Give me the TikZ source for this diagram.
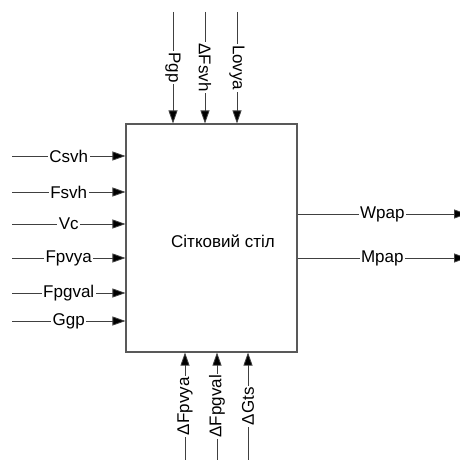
\documentclass[tikz,border=0pt]{standalone}
\usepackage{fontspec}
\setmainfont{Liberation Sans}
\usetikzlibrary{arrows.meta}
\begin{document}
\begin{tikzpicture}[x=1pt,y=-1pt,
  conn/.style={draw=black!75, line width=0.8pt, -{Triangle[length=13pt,width=9pt,fill=black]}},
  lbl/.style={fill=white, inner xsep=1.5pt, inner ysep=0pt, font=\fontsize{17}{19}\selectfont},
  boxst/.style={draw=black!65, line width=1.1pt, minimum width=171pt, minimum height=228pt, inner sep=0pt}]
\useasboundingbox (0,0) rectangle (460,460);
\clip (0,0) rectangle (460,460);
\node[boxst] (tbl) at (211.5,238) {};
\node[font=\fontsize{17}{19}\selectfont] (ttl) at (223,241) {Сітковий стіл};
% left inputs
\foreach \y/\t/\n in {156/Csvh/l1,192/Fsvh/l2,224/Vc/l3,258/Fpvya/l4,293/Fpgval/l5,321/Ggp/l6}{
  \coordinate (\n) at (12,\y);
  \draw[conn] (\n) -- node[lbl]{\t} (\n -| tbl.west);
}
% top inputs
\foreach \x/\t/\n in {173/Pgp/t1,205/ΔFsvh/t2,237/Lovya/t3}{
  \coordinate (\n) at (\x,12);
  \draw[conn] (\n) -- node[lbl,rotate=-90]{\t} (\n |- tbl.north);
}
% bottom inputs
\foreach \x/\t/\n in {185/ΔFpvya/b1,217/ΔFpgval/b2,248/ΔGts/b3}{
  \coordinate (\n) at (\x,460);
  \draw[conn] (\n) -- node[lbl,rotate=90]{\t} (\n |- tbl.south);
}
% right outputs
\foreach \y/\t/\n in {214/Wpap/r1,258/Mpap/r2}{
  \coordinate (\n) at (467,\y);
  \draw[conn] (\n -| tbl.east) -- node[lbl,pos=0.5]{\t} (\n);
}
\end{tikzpicture}
\end{document}
